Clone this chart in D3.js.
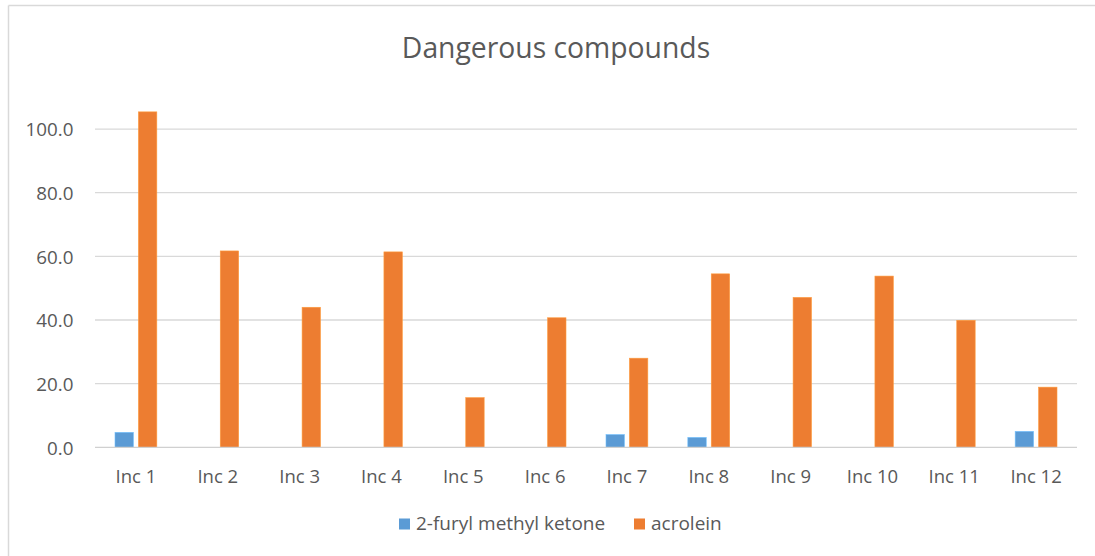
<!DOCTYPE html>
<html>
<head>
<meta charset="utf-8">
<script src="https://cdn.jsdelivr.net/npm/d3@7"></script>
<style>
  html, body { margin: 0; padding: 0; background: #fff; }
  svg { display: block; }
  text { font-family: "Open Sans", Lato, sans-serif; fill: #595959; }
</style>
</head>
<body>
<svg id="chart" width="1095" height="556"></svg>
<script>
const categories = ["Inc 1","Inc 2","Inc 3","Inc 4","Inc 5","Inc 6","Inc 7","Inc 8","Inc 9","Inc 10","Inc 11","Inc 12"];
const seriesNames = ["2-furyl methyl ketone", "acrolein"];
const furylMethylKetone = [4.7, 0, 0, 0, 0, 0, 4.0, 3.1, 0, 0, 0, 5.0];
const acrolein = [105.4, 61.7, 44.0, 61.4, 15.6, 40.7, 28.0, 54.5, 47.1, 53.8, 39.9, 18.9];
const yTicks = [0, 20, 40, 60, 80, 100];
const colors = ["#5B9BD5", "#ED7D31"];
const title = "Dangerous compounds";

const FONT = "'Open Sans', Lato, sans-serif";
const svg = d3.select("#chart");

// chart border (left & top)
svg.append("line").attr("x1", 8.5).attr("x2", 8.5).attr("y1", 5.5).attr("y2", 556)
  .attr("stroke", "#d9d9d9").attr("stroke-width", 1.5);
svg.append("line").attr("x1", 8.5).attr("x2", 1095).attr("y1", 5.5).attr("y2", 5.5)
  .attr("stroke", "#d9d9d9").attr("stroke-width", 1.5);

const plot = { left: 95, right: 1077, top: 65.4, bottom: 447.3 };

const x = d3.scaleBand().domain(categories).range([plot.left, plot.right]).padding(0);
const x1 = d3.scaleBand().domain(seriesNames).range([20, x.bandwidth() - 20]).paddingInner(0.214).paddingOuter(0);
const y = d3.scaleLinear().domain([0, 120]).range([plot.bottom, plot.top]);

// gridlines
svg.append("g").selectAll("line").data(yTicks.filter(d => d > 0)).join("line")
  .attr("x1", plot.left).attr("x2", plot.right)
  .attr("y1", d => y(d)).attr("y2", d => y(d))
  .attr("stroke", "#d9d9d9").attr("stroke-width", 1.3);

// y axis labels
const yAxis = d3.axisLeft(y).tickValues(yTicks).tickFormat(d3.format(".1f")).tickSize(0).tickPadding(0);
const gy = svg.append("g").attr("transform", `translate(73.5,0)`).call(yAxis);
gy.select(".domain").remove();
gy.selectAll("text").style("font-family", FONT).style("font-size", "18.8px").attr("fill", "#595959").attr("dy", "0.36em");

// bars
const seriesData = [furylMethylKetone, acrolein];
seriesNames.forEach((name, si) => {
  svg.append("g").selectAll("rect").data(seriesData[si]).join("rect")
    .attr("x", (d, i) => x(categories[i]) + x1(name))
    .attr("width", x1.bandwidth())
    .attr("y", d => y(d))
    .attr("height", d => y(0) - y(d))
    .attr("fill", colors[si])
    .attr("stroke", d3.color(colors[si]).brighter(0.6))
    .attr("stroke-width", 0.6);
});

// baseline
svg.append("line").attr("x1", plot.left).attr("x2", plot.right)
  .attr("y1", y(0)).attr("y2", y(0)).attr("stroke", "#d0d0d0").attr("stroke-width", 1.3);

// x axis labels
const xAxis = d3.axisBottom(x).tickSize(0).tickPadding(0);
const gx = svg.append("g").attr("transform", `translate(0,483)`).call(xAxis);
gx.select(".domain").remove();
gx.selectAll("text").attr("dy", 0).style("font-family", FONT).style("font-size", "18.5px").attr("fill", "#595959");

// title
svg.append("text").attr("x", 556).attr("y", 58).attr("text-anchor", "middle")
  .style("font-size", "28.3px").text(title);

// legend
const legendItems = [{ x: 399 }, { x: 634 }];
seriesNames.forEach((name, i) => {
  const g = svg.append("g").attr("transform", `translate(${legendItems[i].x},0)`);
  g.append("rect").attr("x", 0).attr("y", 518.5).attr("width", 11).attr("height", 11).attr("fill", colors[i]);
  g.append("text").attr("x", 17).attr("y", 529.5).style("font-size", "19px").text(name);
});
</script>
</body>
</html>
